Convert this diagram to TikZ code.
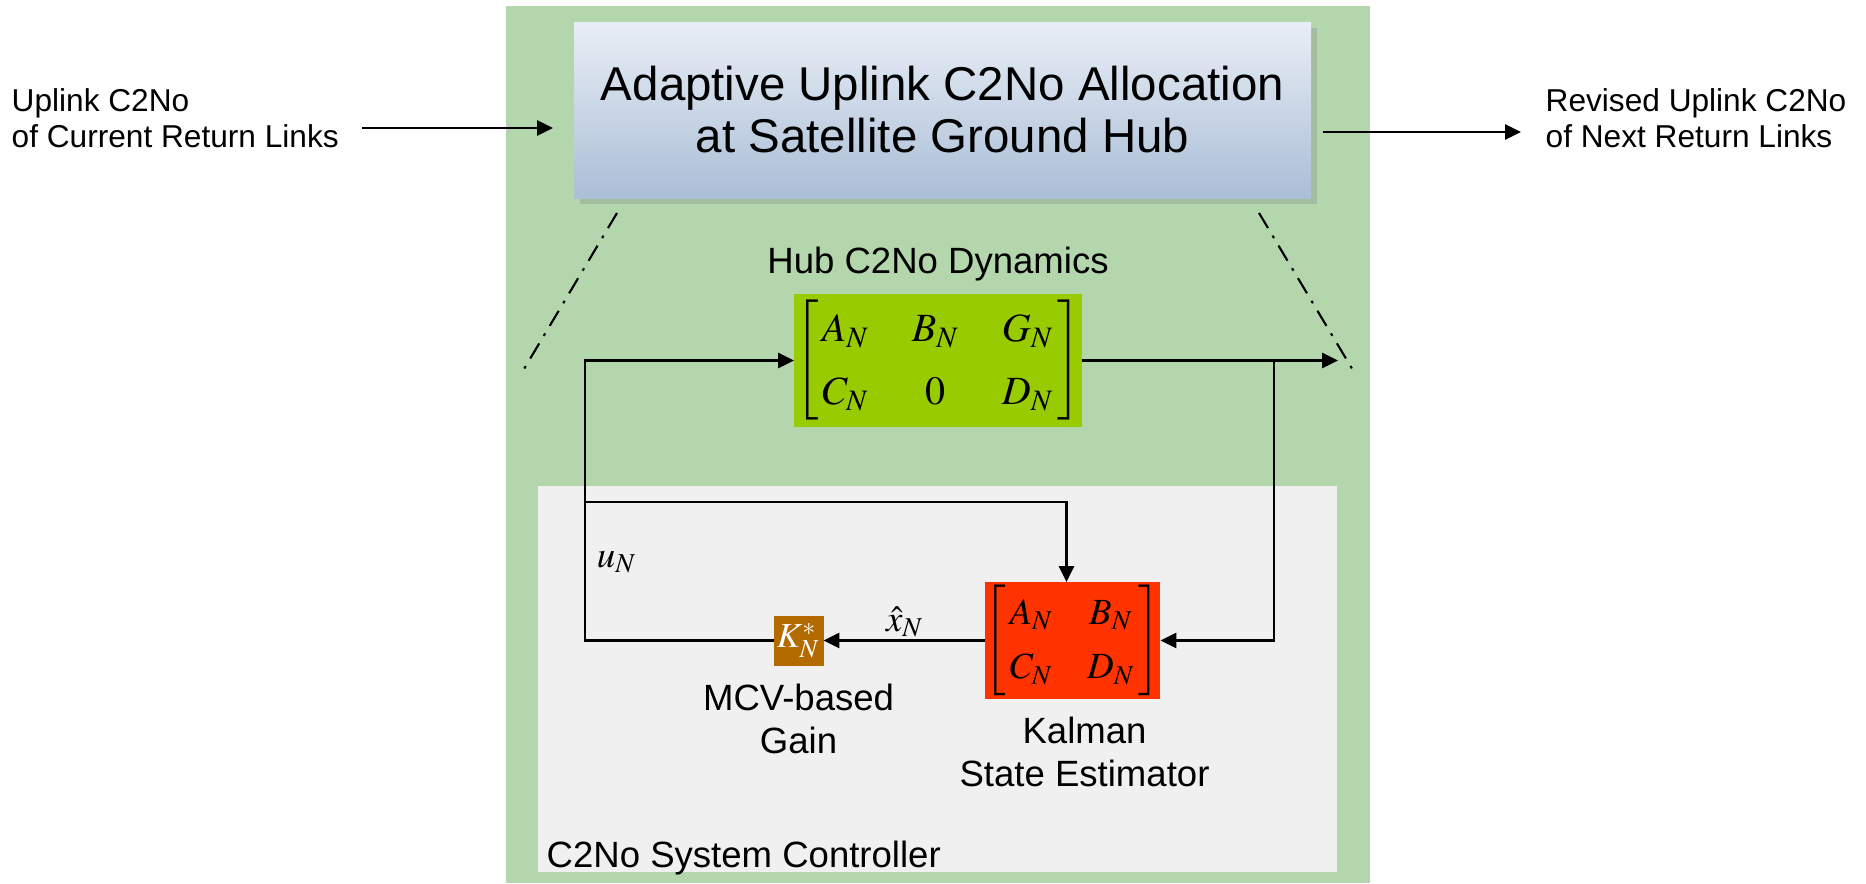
\documentclass[tikz,border=0pt]{standalone}
\usepackage{mathptmx}
\usepackage[no-math]{fontspec}
\setmainfont{Liberation Sans}
\usetikzlibrary{arrows.meta,positioning,shadows,calc}
\definecolor{hubgreen}{HTML}{B3D6AD}
\definecolor{ctrlgrey}{HTML}{F0F0F0}
\definecolor{dyngreen}{HTML}{99CC00}
\definecolor{kalred}{HTML}{FF3300}
\definecolor{gainbrown}{HTML}{B36B00}
\definecolor{titletop}{HTML}{E9EEF6}
\definecolor{titlebot}{HTML}{AABED6}

\begin{document}
\begin{tikzpicture}[
  font=\fontsize{10.4}{12.2}\selectfont,
  panel/.style={inner sep=0pt, outer sep=0pt},
  mbox/.style={inner sep=0pt, outer sep=0pt, align=center},
  lbl/.style={inner sep=0pt, align=center},
  side/.style={inner sep=0pt, align=left, font=\fontsize{9}{10.2}\selectfont},
  arr/.style={-{Triangle[length=4.5pt,width=4.3pt]}, line width=0.6pt},
  zoomline/.style={line width=0.6pt, dash pattern=on 5pt off 2.5pt on 0.8pt off 2.5pt}
]
\useasboundingbox (0,0) rectangle (18.66,-8.83);
% hub and controller areas
\node[panel, fill=hubgreen, minimum width=8.64cm, minimum height=8.77cm] (hub) at (9.38,-4.445) {};
\node[panel, fill=ctrlgrey, minimum width=7.99cm, minimum height=3.86cm] (ctrl) at (9.375,-6.79) {};
\node[lbl, anchor=base west] (ctrllbl) at ($(ctrl.south west)+(0.08,0.05)$) {C2No System Controller};

% allocation block
\node[mbox, top color=titletop, bottom color=titlebot, minimum width=7.37cm, minimum height=1.76cm,
  drop shadow={shadow xshift=0.6mm, shadow yshift=-0.6mm, opacity=0.3},
  font=\fontsize{13.5}{14.8}\selectfont] (alloc) at (9.425,-1.10) {Adaptive Uplink C2No Allocation\\at Satellite Ground Hub};
\node[side, anchor=west] (cur) at (0.11,-1.185) {Uplink C2No\\of Current Return Links};
\node[side, anchor=west] (nxt) at (15.45,-1.185) {Revised Uplink C2No\\of Next Return Links};
\coordinate (curin) at (3.62,-1.28);
\coordinate (nxtout) at (15.21,-1.32);
\draw[arr, shorten >=2.1mm] (curin) -- (alloc.west |- curin);
\draw[arr, shorten <=1.2mm] (alloc.east |- nxtout) -- (nxtout);

% zoom lines
\coordinate (zl1) at (6.17,-2.13);
\coordinate (zl2) at (5.21,-3.74);
\coordinate (zr1) at (12.59,-2.13);
\coordinate (zr2) at (13.54,-3.72);
\draw[zoomline] (zl1) -- (zl2);
\draw[zoomline] (zr1) -- (zr2);

% hub dynamics
\node[mbox, fill=dyngreen, minimum width=2.88cm, minimum height=1.33cm, font=\fontsize{11.4}{13.7}\selectfont] (dyn) at (9.38,-3.605)
  {\renewcommand{\arraystretch}{1.3}\delimiterfactor=850 $\left[\begin{array}{@{\hspace{1pt}}c@{\hspace{12pt}}c@{\hspace{12pt}}c@{\hspace{1pt}}}A_N & B_N & G_N\\ C_N & 0 & D_N\end{array}\right]$};
\node[lbl, above=0.12cm of dyn] (dynlbl) {Hub C2No Dynamics};

% estimator and gain
\node[mbox, fill=kalred, minimum width=1.73cm, minimum height=1.17cm, font=\fontsize{10.5}{12.6}\selectfont] (kal) at (10.725,-6.405)
  {\renewcommand{\arraystretch}{1.24}$\left[\begin{array}{@{\hspace{1pt}}c@{\hspace{9.5pt}}c@{\hspace{1pt}}}A_N & B_N\\ C_N & D_N\end{array}\right]$};
\node[lbl, below=0.17cm of kal, xshift=1.2mm] (kallbl) {Kalman\\State Estimator};
\node[mbox, fill=gainbrown, text=white, minimum size=0.5cm, font=\fontsize{10}{12}\selectfont, left=1.61cm of kal] (gain) {$K_N^*$};
\node[lbl, below=0.18cm of gain] (gainlbl) {MCV-based\\Gain};

% loop wiring
\coordinate (dynout) at (13.38,-3.605);
\coordinate (split) at (12.74,-3.605);
\coordinate (loopx) at (5.85,-5.02);
\draw[arr] (dyn.east) -- (dynout);
\draw[arr] (split) |- (kal.east);
\draw[arr] (kal.west) -- (gain.east);
\draw[arr] (gain.west) -| (loopx) |- (dyn.west);
\draw[arr] (loopx) -| ($(kal.north)+(-0.06,0)$);
\node[lbl, font=\fontsize{10.5}{12}\selectfont] (ulbl) at (6.17,-5.62) {$u_N$};
\node[lbl, font=\fontsize{10.5}{12}\selectfont] (xlbl) at (9.05,-6.22) {$\hat{x}_N$};
\end{tikzpicture}
\end{document}
